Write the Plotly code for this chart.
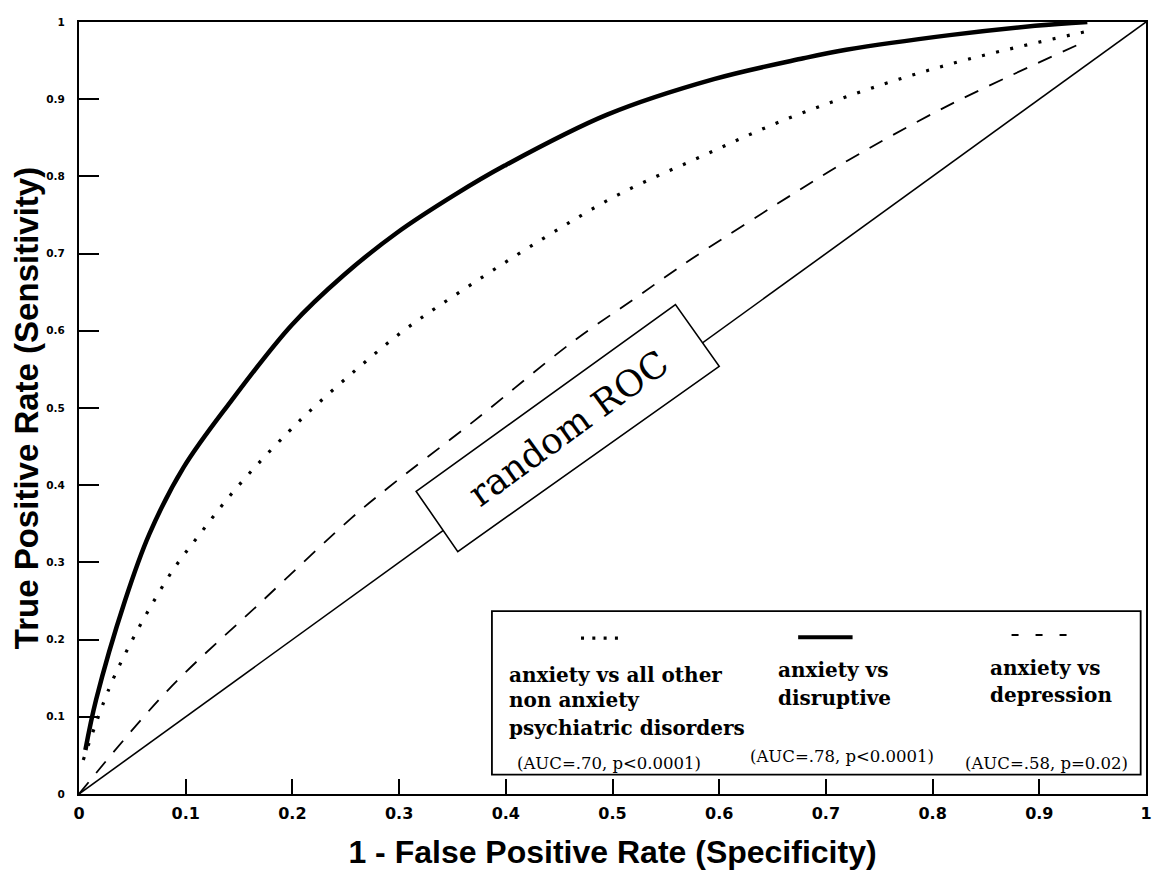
import plotly.graph_objects as go

# ---------------- data ----------------
fpr_disruptive = [0.006, 0.016, 0.043, 0.066, 0.098, 0.142, 0.199, 0.248, 0.298, 0.352,
                  0.399, 0.495, 0.595, 0.679, 0.719, 0.816, 0.896, 0.945]
tpr_disruptive = [0.057, 0.122, 0.250, 0.337, 0.423, 0.508, 0.607, 0.672, 0.727, 0.776,
                  0.814, 0.880, 0.926, 0.953, 0.964, 0.983, 0.995, 1.000]

fpr_all_other = [0.004, 0.028, 0.046, 0.066, 0.089, 0.114, 0.140, 0.168, 0.197, 0.217,
                 0.260, 0.304, 0.349, 0.432, 0.505, 0.582, 0.659, 0.753, 0.834, 0.945]
tpr_all_other = [0.044, 0.136, 0.189, 0.240, 0.292, 0.338, 0.384, 0.428, 0.470, 0.497,
                 0.550, 0.600, 0.643, 0.717, 0.776, 0.825, 0.872, 0.919, 0.952, 0.988]

fpr_depression = [0.0, 0.083, 0.171, 0.255, 0.290, 0.371, 0.462, 0.521, 0.574, 0.677,
                  0.721, 0.815, 0.945]
tpr_depression = [0.0, 0.134, 0.249, 0.357, 0.397, 0.484, 0.585, 0.642, 0.693, 0.784,
                  0.821, 0.892, 0.976]

fpr_random = [0.0, 1.0]
tpr_random = [0.0, 1.0]

tick_vals = [0, 0.1, 0.2, 0.3, 0.4, 0.5, 0.6, 0.7, 0.8, 0.9, 1]
tick_text = ["0", "0.1", "0.2", "0.3", "0.4", "0.5", "0.6", "0.7", "0.8", "0.9", "1"]

legend_names = [
    ["anxiety vs all other", "non anxiety", "psychiatric disorders"],
    ["anxiety vs", "disruptive"],
    ["anxiety vs", "depression"],
]
auc_labels = ["(AUC=.70, p<0.0001)", "(AUC=.78, p<0.0001)", "(AUC=.58, p=0.02)"]
random_label = "random ROC"

x_title = "1 - False Positive Rate (Specificity)"
y_title = "True Positive Rate (Sensitivity)"

# ---------------- figure ----------------
fig = go.Figure()

fig.add_trace(go.Scatter(x=fpr_random, y=tpr_random, mode="lines",
                         line=dict(color="black", width=1.6), showlegend=False,
                         hoverinfo="skip"))
fig.add_trace(go.Scatter(x=fpr_depression, y=tpr_depression, mode="lines",
                         line=dict(color="black", width=1.8, dash="15px,12px", shape="spline"),
                         showlegend=False))
fig.add_trace(go.Scatter(x=fpr_all_other, y=tpr_all_other, mode="lines",
                         line=dict(color="black", width=3.2, dash="3px,11.5px", shape="spline"),
                         showlegend=False))
fig.add_trace(go.Scatter(x=fpr_disruptive, y=tpr_disruptive, mode="lines",
                         line=dict(color="black", width=4.5, shape="spline"),
                         showlegend=False))

shapes = []
# "random ROC" box (rotated rectangle, white fill over the diagonal)
shapes.append(dict(type="path", xref="x", yref="y",
                   path="M 0.316 0.392 L 0.559 0.634 L 0.600 0.554 L 0.355 0.314 Z",
                   fillcolor="white", line=dict(color="black", width=1.6), layer="above"))
# legend box
shapes.append(dict(type="rect", xref="paper", yref="paper",
                   x0=0.387, x1=0.995, y0=0.025, y1=0.237,
                   fillcolor="white", line=dict(color="black", width=1.8), layer="above"))
# legend samples
shapes.append(dict(type="line", xref="paper", yref="paper", x0=0.4705, x1=0.506, y0=0.202, y1=0.202,
                   line=dict(color="black", width=3.2, dash="3px,8.3px"), layer="above"))
shapes.append(dict(type="line", xref="paper", yref="paper", x0=0.674, x1=0.725, y0=0.203, y1=0.203,
                   line=dict(color="black", width=4), layer="above"))
shapes.append(dict(type="line", xref="paper", yref="paper", x0=0.874, x1=0.926, y0=0.206, y1=0.206,
                   line=dict(color="black", width=2, dash="7px,17px"), layer="above"))

annotations = []
annotations.append(dict(x=0.458, y=0.474, xref="x", yref="y", text=random_label,
                        textangle=-36, showarrow=False,
                        font=dict(family="DejaVu Serif", size=36, color="black")))

legend_font = dict(family="DejaVu Serif", size=20, color="black", weight="bold")
auc_font = dict(family="DejaVu Serif", size=16.5, color="black")
col_x = [0.401, 0.653, 0.852]
col_y = [[0.154, 0.122, 0.085], [0.161, 0.124], [0.163, 0.128]]
auc_x = [0.409, 0.627, 0.8285]
auc_y = [0.040, 0.048, 0.040]
for i, lines in enumerate(legend_names):
    for j, line in enumerate(lines):
        annotations.append(dict(x=col_x[i], y=col_y[i][j], xref="paper", yref="paper",
                                text=line, showarrow=False, xanchor="left", yanchor="middle",
                                font=legend_font))
    annotations.append(dict(x=auc_x[i], y=auc_y[i], xref="paper", yref="paper",
                            text=auc_labels[i], showarrow=False, xanchor="left", yanchor="middle",
                            font=auc_font))

axis_common = dict(range=[0, 1], tickvals=tick_vals, ticktext=tick_text,
                   ticks="inside", tickcolor="black", tickwidth=1.5,
                   showline=True, linecolor="black", linewidth=2.2, mirror=True,
                   showgrid=False, zeroline=False)

# the page body adds an 8px offset, so the figure is 8px smaller and margins shifted
fig.update_layout(
    width=1152, height=869,
    margin=dict(l=71, r=14, t=14, b=83, autoexpand=False),
    paper_bgcolor="white", plot_bgcolor="white",
    showlegend=False,
    xaxis=dict(**axis_common, ticklen=15, ticklabelstandoff=4,
               tickfont=dict(family="DejaVu Sans", size=16, color="black", weight="bold"),
               title=dict(text=x_title, standoff=18,
                          font=dict(family="Liberation Sans", size=32, color="black", weight="bold"))),
    yaxis=dict(**axis_common, ticklen=20, ticklabelstandoff=10,
               tickfont=dict(family="DejaVu Sans", size=10.5, color="black", weight="bold"),
               title=dict(text=y_title, standoff=3,
                          font=dict(family="Liberation Sans", size=33, color="black", weight="bold"))),
    shapes=shapes,
    annotations=annotations,
)

fig.write_html("out.html")
